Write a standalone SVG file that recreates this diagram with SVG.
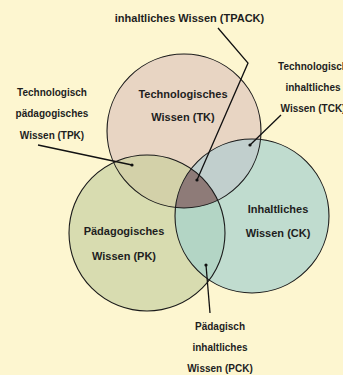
<svg xmlns="http://www.w3.org/2000/svg" width="343" height="375" viewBox="0 0 343 375">
<style>
  .lbl { font-family: "Liberation Sans", Arial, sans-serif; font-weight: bold; fill: #1e1e1e; text-anchor: middle; }
  .big { font-size: 11px; }
  .sm { font-size: 10px; }
  .ring { fill: none; stroke: #1a1a1a; stroke-width: 1.1; }
  .lead { fill: none; stroke: #111; stroke-width: 1.3; }
  .dot { fill: #111; }
</style>
<defs>
  <clipPath id="cTK"><circle cx="184" cy="131" r="77"/></clipPath>
  <clipPath id="cPK"><circle cx="147" cy="233" r="78"/></clipPath>
</defs>
<rect x="0" y="0" width="343" height="375" fill="#fdf6d0"/>

<g id="fills">
  <circle cx="184" cy="131" r="77" fill="#e8d5c3"/>
  <circle cx="147" cy="233" r="78" fill="#d8dcb0"/>
  <circle cx="252" cy="216" r="77" fill="#c0dccf"/>
  <circle cx="147" cy="233" r="78" fill="#d3d1a9" clip-path="url(#cTK)"/>
  <circle cx="252" cy="216" r="77" fill="#c1cfcd" clip-path="url(#cTK)"/>
  <circle cx="252" cy="216" r="77" fill="#b3d5c5" clip-path="url(#cPK)"/>
  <g clip-path="url(#cTK)">
    <circle cx="252" cy="216" r="77" fill="#8e7b78" clip-path="url(#cPK)"/>
  </g>
</g>

<g id="tk">
  <circle class="ring" cx="184" cy="131" r="77"/>
  <text class="lbl big" x="183" y="98">Technologisches</text>
  <text class="lbl big" x="183" y="121">Wissen (TK)</text>
</g>
<g id="pk">
  <circle class="ring" cx="147" cy="233" r="78"/>
  <text class="lbl big" x="124" y="235">Pädagogisches</text>
  <text class="lbl big" x="124" y="260">Wissen (PK)</text>
</g>
<g id="ck">
  <circle class="ring" cx="252" cy="216" r="77"/>
  <text class="lbl big" x="278" y="213">Inhaltliches</text>
  <text class="lbl big" x="278" y="237">Wissen (CK)</text>
</g>

<g id="tpack">
  <text class="lbl big" x="189.5" y="22">inhaltliches Wissen (TPACK)</text>
</g>
<g id="tpk">
  <text class="lbl sm" x="52" y="96">Technologisch</text>
  <text class="lbl sm" x="52" y="117">pädagogisches</text>
  <text class="lbl sm" x="52" y="139">Wissen (TPK)</text>
</g>
<g id="tck">
  <text class="lbl sm" x="313" y="70">Technologisch</text>
  <text class="lbl sm" x="313" y="91">inhaltliches</text>
  <text class="lbl sm" x="313" y="112">Wissen (TCK)</text>
</g>
<g id="pck">
  <text class="lbl sm" x="220" y="330">Pädagisch</text>
  <text class="lbl sm" x="220" y="351">inhaltliches</text>
  <text class="lbl sm" x="220" y="372">Wissen (PCK)</text>
</g>

<g id="connectors">
  <polyline class="lead" points="218,28 248,63 197,180"/>
  <circle class="dot" cx="197" cy="180" r="1.6"/>
  <line class="lead" x1="38" y1="145" x2="132" y2="165"/>
  <circle class="dot" cx="132" cy="165" r="1.6"/>
  <line class="lead" x1="281" y1="115" x2="250" y2="145"/>
  <circle class="dot" cx="250" cy="145" r="1.6"/>
  <line class="lead" x1="210" y1="313" x2="206" y2="265"/>
  <circle class="dot" cx="206" cy="265" r="1.6"/>
</g>
</svg>
